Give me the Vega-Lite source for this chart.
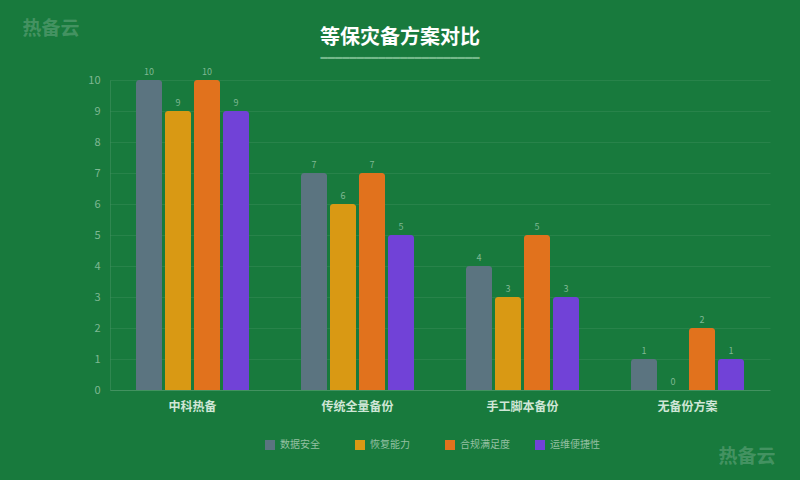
{
  "$schema": "https://vega.github.io/schema/vega-lite/v6.json",
  "width": 660,
  "height": 310,
  "autosize": {"type": "none"},
  "padding": {"left": 110, "top": 80, "right": 30, "bottom": 90},
  "background": "#187a3d",
  "title": {
    "text": "等保灾备方案对比",
    "subtitle": "━━━━━━━━━━━━━━━━━━━━━━",
    "dx": -40,
    "offset": -45,
    "font": "Noto Sans CJK SC",
    "fontSize": 20,
    "fontWeight": "bold",
    "color": "#ffffff",
    "subtitleFont": "DejaVu Sans",
    "subtitleFontSize": 12,
    "subtitleColor": "#74b88a",
    "subtitlePadding": 5
  },
  "config": {
    "font": "Noto Sans CJK SC",
    "view": {"stroke": null},
    "axis": {"grid": false}
  },
  "data": {
    "values": [
      {"plan": "中科热备", "metric": "数据安全", "score": 10},
      {"plan": "中科热备", "metric": "恢复能力", "score": 9},
      {"plan": "中科热备", "metric": "合规满足度", "score": 10},
      {"plan": "中科热备", "metric": "运维便捷性", "score": 9},
      {"plan": "传统全量备份", "metric": "数据安全", "score": 7},
      {"plan": "传统全量备份", "metric": "恢复能力", "score": 6},
      {"plan": "传统全量备份", "metric": "合规满足度", "score": 7},
      {"plan": "传统全量备份", "metric": "运维便捷性", "score": 5},
      {"plan": "手工脚本备份", "metric": "数据安全", "score": 4},
      {"plan": "手工脚本备份", "metric": "恢复能力", "score": 3},
      {"plan": "手工脚本备份", "metric": "合规满足度", "score": 5},
      {"plan": "手工脚本备份", "metric": "运维便捷性", "score": 3},
      {"plan": "无备份方案", "metric": "数据安全", "score": 1},
      {"plan": "无备份方案", "metric": "恢复能力", "score": 0},
      {"plan": "无备份方案", "metric": "合规满足度", "score": 2},
      {"plan": "无备份方案", "metric": "运维便捷性", "score": 1}
    ]
  },
  "encoding": {
    "x": {
      "field": "plan",
      "type": "nominal",
      "sort": null,
      "scale": {"paddingInner": 0.315, "paddingOuter": 0.1575},
      "axis": {
        "title": "热备云",
        "titleX": 608,
        "titleY": 66,
        "titleAlign": "left",
        "titleBaseline": "middle",
        "titleFontSize": 19,
        "titleFontWeight": "bold",
        "titleColor": "#ffffff",
        "titleOpacity": 0.2,
        "labelAngle": 0,
        "labelFontSize": 12,
        "labelFontWeight": "bold",
        "labelColor": "#cfe6d6",
        "labelPadding": 11,
        "ticks": false,
        "domainColor": "#ffffff",
        "domainOpacity": 0.12
      }
    },
    "xOffset": {
      "field": "metric",
      "type": "nominal",
      "sort": ["数据安全", "恢复能力", "合规满足度", "运维便捷性"],
      "scale": {"paddingInner": 0.1, "paddingOuter": 0}
    },
    "y": {
      "field": "score",
      "type": "quantitative",
      "scale": {"domain": [0, 10], "nice": false},
      "axis": {
        "title": "热备云",
        "titleAngle": 0,
        "titleX": -88,
        "titleY": -52,
        "titleAlign": "left",
        "titleBaseline": "middle",
        "titleFontSize": 19,
        "titleFontWeight": "bold",
        "titleColor": "#ffffff",
        "titleOpacity": 0.2,
        "tickCount": 10,
        "grid": true,
        "gridColor": "#ffffff",
        "gridOpacity": 0.07,
        "ticks": false,
        "labelPadding": 10,
        "labelFontSize": 11,
        "labelColor": "#7fb893",
        "domainColor": "#ffffff",
        "domainOpacity": 0.1
      }
    },
    "color": {
      "field": "metric",
      "type": "nominal",
      "sort": ["数据安全", "恢复能力", "合规满足度", "运维便捷性"],
      "scale": {"range": ["#5b7480", "#d99914", "#e1721d", "#7142d7"]},
      "legend": {
        "title": null,
        "orient": "none",
        "legendX": 155,
        "legendY": 360,
        "direction": "horizontal",
        "columns": 4,
        "gridAlign": "all",
        "symbolType": "square",
        "symbolSize": 100,
        "symbolStrokeWidth": 0,
        "symbolOpacity": 1,
        "labelFontSize": 10,
        "labelColor": "#94c0a2",
        "labelOffset": 5,
        "columnPadding": 25
      }
    }
  },
  "layer": [
    {
      "mark": {"type": "bar", "cornerRadiusTopLeft": 3, "cornerRadiusTopRight": 3}
    },
    {
      "mark": {"type": "text", "dy": -8, "fontSize": 9},
      "encoding": {
        "text": {"field": "score", "type": "quantitative"},
        "color": {"value": "#7fb893"}
      }
    }
  ]
}
